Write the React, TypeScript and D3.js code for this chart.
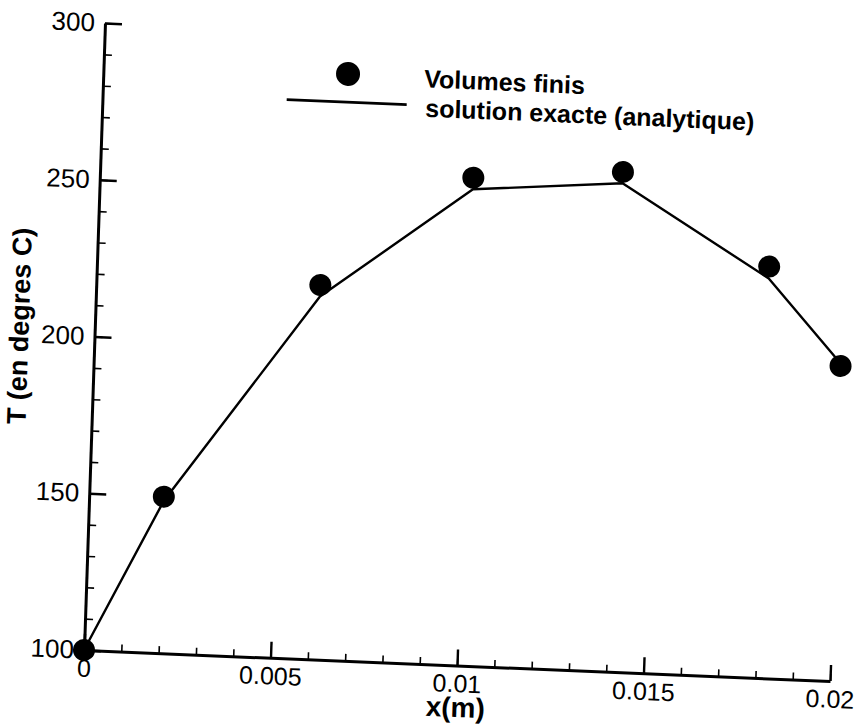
import React, { useEffect, useRef } from "react";
import * as d3 from "d3";

// nodes of the mesh (m)
const xNodes = [0, 0.002, 0.006, 0.01, 0.014, 0.018, 0.02];
// T in degrees C
const volumesFinis = [100, 149.9, 219.4, 255.6, 259.4, 231.2, 200.5];
const solutionExacte = [100, 148.5, 215.7, 251.9, 255.8, 227.4, 201.3];

const xMajorTicks = [0, 0.005, 0.01, 0.015, 0.02];
const xTickLabels = ["0", "0.005", "0.01", "0.015", "0.02"];
const yMajorTicks = [100, 150, 200, 250, 300];
const yTickLabels = ["100", "150", "200", "250", "300"];
const legendLabels = ["Volumes finis", "solution exacte (analytique)"];

const WIDTH = 856;
const HEIGHT = 727;
const plotW = 746;
const plotH = 627;
// the source is a photo of a printed page, so the axes are a bit skewed
const skew = "matrix(1,0.041555,-0.033493,1,105,23)";
const font = "'Liberation Sans', Arial, Helvetica, sans-serif";

export default function App() {
    const svgRef = useRef<SVGSVGElement>(null);

    useEffect(() => {
        const svg = d3.select(svgRef.current);
        svg.selectAll("*").remove();

        const x = d3.scaleLinear().domain([0, 0.02]).range([0, plotW]);
        const y = d3.scaleLinear().domain([100, 300]).range([plotH, 0]);

        const g = svg.append("g")
            .attr("transform", skew)
            .style("font-family", font);

        // minor ticks
        g.append("g")
            .attr("transform", `translate(0,${plotH})`)
            .call(d3.axisBottom(x).ticks(20).tickSize(-7).tickFormat(() => ""))
            .call((a) => a.select(".domain").remove())
            .selectAll("line")
            .attr("stroke", "#000")
            .attr("stroke-width", 1.6);

        g.append("g")
            .call(d3.axisLeft(y).ticks(20).tickSize(-8).tickFormat(() => ""))
            .call((a) => a.select(".domain").remove())
            .selectAll("line")
            .attr("stroke", "#000")
            .attr("stroke-width", 1.6);

        // major axes
        const xAxis = g.append("g")
            .attr("transform", `translate(0,${plotH})`)
            .call(
                d3.axisBottom(x)
                    .tickValues(xMajorTicks)
                    .tickSize(-16)
                    .tickSizeOuter(0)
                    .tickPadding(9)
                    .tickFormat((_, i) => xTickLabels[i])
            );
        xAxis.select(".domain").attr("stroke", "#000").attr("stroke-width", 3);
        xAxis.selectAll("line").attr("stroke", "#000").attr("stroke-width", 2.4);
        xAxis.selectAll("text")
            .attr("fill", "#000")
            .style("font-size", "25px")
            .style("font-family", font);

        const yAxis = g.append("g")
            .call(
                d3.axisLeft(y)
                    .tickValues(yMajorTicks)
                    .tickSize(-17)
                    .tickSizeOuter(0)
                    .tickPadding(10)
                    .tickFormat((_, i) => yTickLabels[i])
            );
        yAxis.select(".domain").attr("stroke", "#000").attr("stroke-width", 3);
        yAxis.selectAll("line").attr("stroke", "#000").attr("stroke-width", 2.4);
        yAxis.selectAll("text")
            .attr("fill", "#000")
            .style("font-size", "26px")
            .style("font-family", font);

        // axis titles
        g.append("text")
            .attr("x", 372.7)
            .attr("y", 678.5)
            .attr("text-anchor", "middle")
            .attr("font-weight", "bold")
            .attr("font-size", 28)
            .text("x(m)");

        g.append("text")
            .attr("transform", "translate(-66,306) rotate(-90)")
            .attr("text-anchor", "middle")
            .attr("font-weight", "bold")
            .attr("font-size", 27)
            .text("T (en degres C)");

        // analytic solution
        const line = d3.line<number>()
            .x((_, i) => x(xNodes[i]))
            .y((d) => y(d));

        g.append("path")
            .datum(solutionExacte)
            .attr("d", line)
            .attr("fill", "none")
            .attr("stroke", "#000")
            .attr("stroke-width", 2.4)
            .attr("stroke-linejoin", "round");

        // finite volumes
        g.selectAll(".fv")
            .data(volumesFinis)
            .enter()
            .append("circle")
            .attr("class", "fv")
            .attr("cx", (_, i) => x(xNodes[i]))
            .attr("cy", (d) => y(d))
            .attr("r", 11)
            .attr("fill", "#000");

        // legend
        const legend = g.append("g");
        legend.append("circle")
            .attr("cx", 244.4)
            .attr("cy", 40.8)
            .attr("r", 12)
            .attr("fill", "#000");
        legend.append("line")
            .attr("x1", 184)
            .attr("x2", 304)
            .attr("y1", 69)
            .attr("y2", 69)
            .attr("stroke", "#000")
            .attr("stroke-width", 2.6);
        legend.selectAll(".lbl")
            .data(legendLabels)
            .enter()
            .append("text")
            .attr("class", "lbl")
            .attr("x", (_, i) => (i === 0 ? 320.7 : 322.7))
            .attr("y", (_, i) => (i === 0 ? 51 : 80.3))
            .attr("font-weight", "bold")
            .attr("font-size", 25)
            .attr("fill", "#000")
            .text((d) => d);
    }, []);

    return (
        <svg
            ref={svgRef}
            width={WIDTH}
            height={HEIGHT}
            style={{ position: "absolute", left: 0, top: 0, background: "#fff" }}
        ></svg>
    );
}
